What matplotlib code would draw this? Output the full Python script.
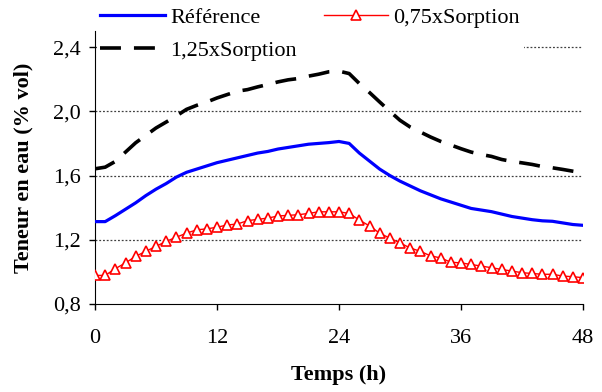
import matplotlib
matplotlib.use('Agg')
import matplotlib.pyplot as plt

# font: Times-like serif
plt.rcParams['font.family'] = ['Liberation Serif', 'DejaVu Serif']

# hourly values
hours = list(range(49))
reference = [1.313, 1.313, 1.35, 1.39, 1.43, 1.475, 1.515, 1.55, 1.59, 1.62,
             1.64, 1.66, 1.68, 1.695, 1.71, 1.725, 1.74, 1.75, 1.765, 1.775,
             1.785, 1.795, 1.80, 1.805, 1.812, 1.80, 1.74, 1.69, 1.64, 1.60,
             1.565, 1.535, 1.505, 1.48, 1.455, 1.435, 1.415, 1.395, 1.385, 1.375,
             1.36, 1.345, 1.335, 1.325, 1.318, 1.315, 1.305, 1.295, 1.29]
sorption_075 = [0.978, 0.978, 1.02, 1.056, 1.097, 1.128, 1.159, 1.19, 1.216, 1.241,
                1.262, 1.268, 1.278, 1.292, 1.298, 1.319, 1.327, 1.335, 1.348, 1.352,
                1.356, 1.364, 1.374, 1.374, 1.374, 1.364, 1.323, 1.286, 1.241, 1.21,
                1.18, 1.149, 1.128, 1.10, 1.087, 1.06, 1.056, 1.046, 1.036, 1.026,
                1.015, 1.005, 0.995, 0.99, 0.985, 0.985, 0.974, 0.97, 0.964]
sorption_125 = [1.642, 1.652, 1.688, 1.746, 1.804, 1.85, 1.896, 1.933, 1.971, 2.012,
                2.037, 2.058, 2.083, 2.104, 2.125, 2.135, 2.152, 2.167, 2.183, 2.196,
                2.204, 2.219, 2.231, 2.246, 2.25, 2.235, 2.173, 2.117, 2.058, 2.0,
                1.944, 1.902, 1.871, 1.84, 1.8125, 1.79, 1.767, 1.746, 1.731, 1.719,
                1.70, 1.688, 1.679, 1.669, 1.656, 1.648, 1.638, 1.627, 1.617]

xticks = [0, 12, 24, 36, 48]
yticks = [0.8, 1.2, 1.6, 2.0, 2.4]
ytick_labels = ['0,8', '1,2', '1,6', '2,0', '2,4']

fig = plt.figure(figsize=(6.02, 3.92), dpi=100)
ax = fig.add_axes([95/602, 1 - 304/392, (583 - 95)/602, (304 - 31)/392])

for y in yticks[1:]:
    ax.axhline(y, color='#404040', linestyle=(0, (1.5, 1.5)), linewidth=0.9, zorder=1)

l_ref, = ax.plot(hours, reference, color='#0000ff', linewidth=2.3, zorder=3)
l_125, = ax.plot(hours, sorption_125, color='black', linewidth=2.6,
                 linestyle=(0, (5.8, 3.6)), zorder=3)
l_075, = ax.plot(hours, sorption_075, color='#ff0000', linewidth=1.0, marker='^',
                 markersize=7, markerfacecolor='white', markeredgecolor='#ff0000',
                 markeredgewidth=1.2, zorder=3)

ax.set_xlim(0, 48)
ax.set_ylim(0.8, 2.5)
ax.set_xticks(xticks)
ax.set_xticklabels([str(t) for t in xticks])
ax.set_yticks(yticks)
ax.set_yticklabels(ytick_labels)
ax.tick_params(direction='out', length=4, width=1, labelsize=16)
ax.tick_params(axis='x', pad=14)
ax.tick_params(axis='y', pad=6)
ax.spines['top'].set_visible(False)
ax.spines['right'].set_visible(False)

ax.set_xlabel('Temps (h)', fontsize=16, fontweight='bold', labelpad=12)
ax.set_ylabel('Teneur en eau (% vol)', fontsize=16, fontweight='bold', labelpad=14)

leg = fig.legend([l_ref, l_125, l_075], ['Référence', '1,25xSorption', '0,75xSorption'],
                 ncol=2, loc='upper left', bbox_to_anchor=(97/602, 1 - 4/392),
                 fontsize=16, frameon=True, framealpha=1.0, edgecolor='none',
                 fancybox=False, borderpad=0.15, handlelength=2.9, handletextpad=0.25,
                 columnspacing=1.2, labelspacing=0.55, borderaxespad=0)
leg.set_zorder(10)

fig.savefig('out.png', dpi=100)
